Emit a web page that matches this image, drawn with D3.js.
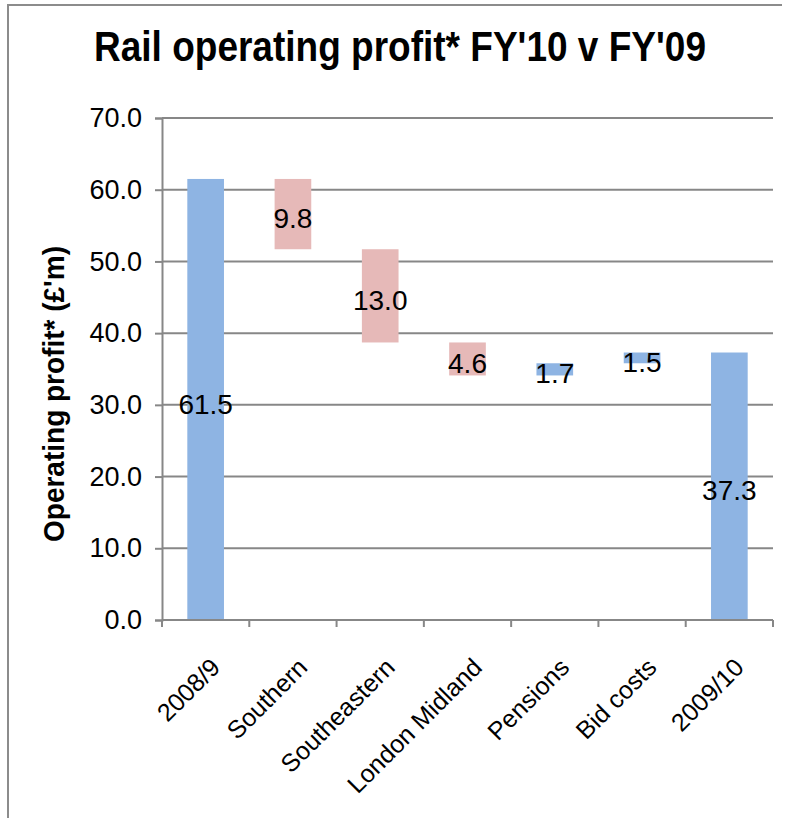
<!DOCTYPE html>
<head>
  <meta charset="utf-8">
  <script src="https://d3js.org/d3.v7.min.js"></script>
  <style>
    body { margin:0; background:white; }
    svg { display:block; }
    text { font-family: "Liberation Sans", Arial, sans-serif; }
  </style>
</head>
<body>
<script>
  var categories = ["2008/9", "Southern", "Southeastern", "London Midland", "Pensions", "Bid costs", "2009/10"];
  var changes = [61.5, -9.8, -13.0, -4.6, 1.7, 1.5, 37.3];
  var isTotal = [true, false, false, false, false, false, true];
  var yTicks = [0, 10, 20, 30, 40, 50, 60, 70];

  var width = 787, height = 818;
  var gray = "#878787";

  var svg = d3.select("body").append("svg")
    .attr("width", width)
    .attr("height", height);

  // chart frame (only left and top edges are visible)
  svg.append("path")
    .attr("d", "M8," + height + "V5H782")
    .attr("fill", "none")
    .attr("stroke", "#8c8c8c")
    .attr("stroke-width", 2);

  var x = d3.scaleBand().domain(categories).range([162, 773]);
  var y = d3.scaleLinear().domain([0, 70]).range([620, 118]);

  // running totals for the waterfall
  var running = 0;
  var bars = categories.map(function(c, i) {
    var v = changes[i], lo, hi;
    if (isTotal[i]) { lo = 0; hi = v; running = v; }
    else {
      lo = Math.min(running, running + v);
      hi = Math.max(running, running + v);
      running += v;
    }
    return { cat: c, v: v, lo: lo, hi: hi, neg: v < 0 };
  });

  // gridlines
  svg.selectAll("line.grid")
    .data(yTicks.filter(function(d) { return d > 0; }))
    .enter().append("line")
    .attr("class", "grid")
    .attr("x1", 162).attr("x2", 773)
    .attr("y1", function(d) { return y(d); })
    .attr("y2", function(d) { return y(d); })
    .attr("stroke", gray)
    .attr("stroke-width", 2);

  // y axis
  var yAxis = svg.append("g")
    .attr("transform", "translate(162,0)")
    .call(d3.axisLeft(y).tickValues(yTicks).tickFormat(d3.format(".1f")).tickSize(7).tickPadding(13));
  yAxis.select(".domain").attr("stroke", gray).attr("stroke-width", 2);
  yAxis.selectAll(".tick line").attr("stroke", gray).attr("stroke-width", 2);
  yAxis.selectAll(".tick text")
    .attr("fill", "black")
    .style("font-size", "27px")
    .style("font-family", '"Liberation Sans", Arial, sans-serif');

  // bars
  var barW = x.bandwidth() * 0.42;
  svg.selectAll("rect.bar")
    .data(bars)
    .enter().append("rect")
    .attr("class", "bar")
    .attr("x", function(d) { return x(d.cat) + (x.bandwidth() - barW) / 2; })
    .attr("width", barW)
    .attr("y", function(d) { return y(d.hi); })
    .attr("height", function(d) { return y(d.lo) - y(d.hi); })
    .attr("fill", function(d) { return d.neg ? "#e6b9b8" : "#8eb4e3"; });

  // x axis line and boundary ticks
  svg.append("line")
    .attr("x1", 162).attr("x2", 773)
    .attr("y1", y(0)).attr("y2", y(0))
    .attr("stroke", gray).attr("stroke-width", 2);
  svg.selectAll("line.xtick")
    .data(categories.concat(["end"]))
    .enter().append("line")
    .attr("class", "xtick")
    .attr("x1", function(d, i) { return 162 + i * x.step(); })
    .attr("x2", function(d, i) { return 162 + i * x.step(); })
    .attr("y1", y(0)).attr("y2", y(0) + 7)
    .attr("stroke", gray).attr("stroke-width", 2);

  // category labels
  svg.selectAll("text.cat")
    .data(categories)
    .enter().append("text")
    .attr("class", "cat")
    .attr("text-anchor", "end")
    .attr("transform", function(d) {
      return "translate(" + (x(d) + x.bandwidth() / 2 + 16) + ",669) rotate(-45)";
    })
    .style("font-size", "25px")
    .text(function(d) { return d; });

  // data labels
  svg.selectAll("text.val")
    .data(bars)
    .enter().append("text")
    .attr("class", "val")
    .attr("text-anchor", "middle")
    .attr("x", function(d) { return x(d.cat) + x.bandwidth() / 2; })
    .attr("y", function(d) { return y((d.lo + d.hi) / 2) + 4; })
    .attr("dy", "0.36em")
    .style("font-size", "28px")
    .text(function(d) { return Math.abs(d.v).toFixed(1); });

  // title
  svg.append("text")
    .attr("x", 400).attr("y", 61)
    .attr("text-anchor", "middle")
    .attr("textLength", 612)
    .attr("lengthAdjust", "spacingAndGlyphs")
    .style("font-size", "42px")
    .style("font-weight", "bold")
    .text("Rail operating profit*  FY'10 v FY'09");

  // y axis title
  svg.append("text")
    .attr("transform", "translate(64,394) rotate(-90)")
    .attr("text-anchor", "middle")
    .attr("textLength", 296)
    .attr("lengthAdjust", "spacingAndGlyphs")
    .style("font-size", "29px")
    .style("font-weight", "bold")
    .text("Operating  profit*  (£'m)");
</script>
</body>
